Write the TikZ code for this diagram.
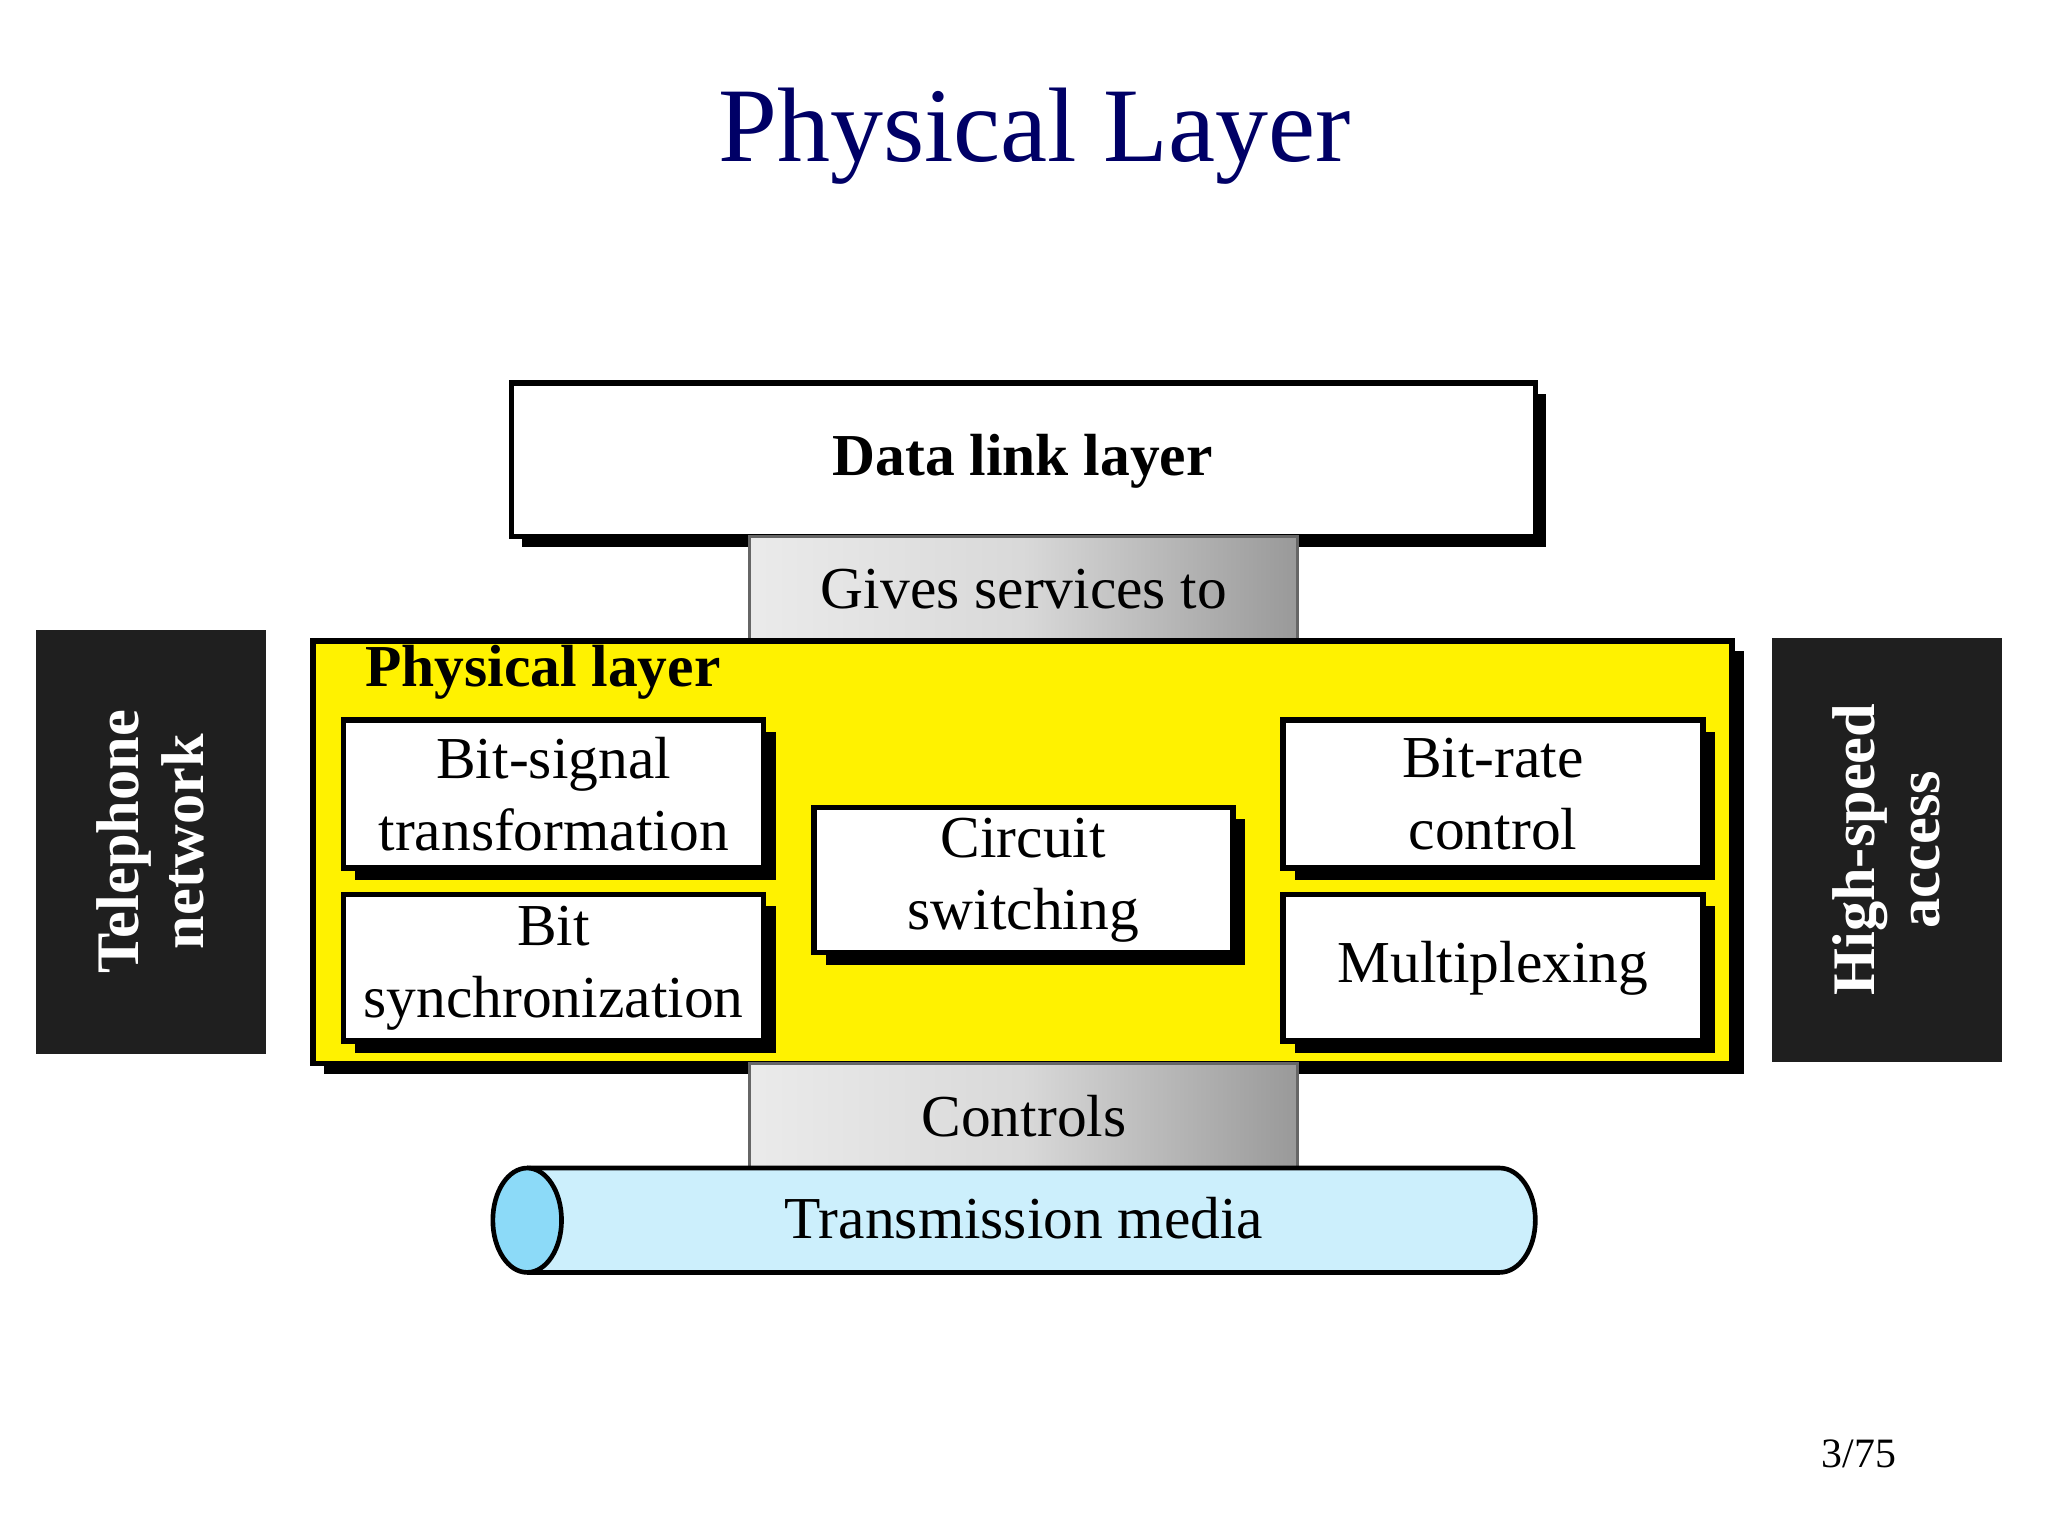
\documentclass[tikz,border=0pt]{standalone}
\usepackage{fontspec}
\setmainfont{Liberation Serif}
\begin{document}
\begin{tikzpicture}[x=0.01cm,y=-0.01cm,
  txt/.style={align=center, font=\fontsize{12.8}{15.5}\selectfont},
  grad/.style={draw=black!60, line width=0.6pt, left color=black!8, right color=black!40, middle color=black!15},
  side/.style={fill=black!88, text=white, font=\bfseries\fontsize{13}{14}\selectfont, align=center}]
\useasboundingbox (0,0) rectangle (1550,1162);
\node[text=blue!40!black, font=\fontsize{22.8}{26}\selectfont] (title) at (783,103) {Physical Layer};

% data link layer
\fill (395,298) rectangle (1170,414);
\draw[line width=1.2pt, fill=white] (387,290) rectangle (1162,406);
\node[font=\bfseries\fontsize{12.8}{15}\selectfont] (dlt) at (774,349) {Data link layer};

% gives services to
\draw[grad] (567,406) rectangle (982,485);
\node[txt] (gives) at (775,446) {Gives services to};

% physical layer
\fill (245,493) rectangle (1320,813);
\draw[line width=1.2pt, fill=yellow] (237,485) rectangle (1311,805);
\node[anchor=west, font=\bfseries\fontsize{12.8}{15}\selectfont] (pl) at (264,509) {Physical layer};

% inner boxes
\foreach \n/\xa/\ya/\xb/\yb/\t in {
  bs/260/545/578/657/{Bit-signal\\transformation},
  bsy/260/677/578/788/{Bit\\synchronization},
  cs/616/611/933/721/{Circuit\\switching},
  br/971/545/1289/657/{Bit-rate\\control},
  mx/971/677/1289/788/{Multiplexing}} {
  \fill (\xa+9,\ya+9) rectangle (\xb+9,\yb+9);
  \draw[line width=1.2pt, fill=white] (\xa,\ya) rectangle (\xb,\yb);
  \node[txt] (\n) at ({(\xa+\xb)/2},{(\ya+\yb)/2}) {\t};
}

% controls
\draw[grad] (567,805) rectangle (982,884);
\node[txt] (ctl) at (775,845) {Controls};

% transmission media
\draw[line width=1pt, fill=cyan!20!white] (399,884) -- (1135,884)
  arc[start angle=90, end angle=-90, x radius=27, y radius=-39.5] -- (399,963);
\draw[line width=1pt, fill=cyan!45!white] (399,923.5) ellipse [x radius=26, y radius=39.5];
\node[txt] (tm) at (775,922) {Transmission media};

% side labels
\fill[black!88] (27,477) rectangle (201,798);
\node[side, rotate=90] (tel) at (114,637) {Telephone\\network};
\fill[black!88] (1341,483) rectangle (1515,804);
\node[side, rotate=90] (hs) at (1428,643) {High-speed\\access};

\node[font=\fontsize{9}{10}\selectfont] (pg) at (1407,1100) {3/75};
\end{tikzpicture}
\end{document}
